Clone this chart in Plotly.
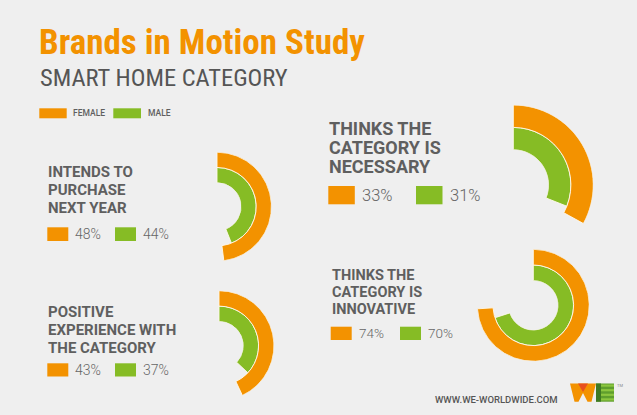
import plotly.graph_objects as go

# ---------------- data ----------------
chart_labels = [
    ["INTENDS TO", "PURCHASE", "NEXT YEAR"],
    ["THINKS THE", "CATEGORY IS", "NECESSARY"],
    ["POSITIVE", "EXPERIENCE WITH", "THE CATEGORY"],
    ["THINKS THE", "CATEGORY IS", "INNOVATIVE"],
]
female = [48, 33, 43, 74]
male = [44, 31, 37, 70]
series_names = ["FEMALE", "MALE"]

# ---------------- styles / layout ----------------
W, H = 637, 415
BG = "#efefef"
ORANGE = "#f39200"
GREEN = "#86bc25"
GRAY = "#5f5f5f"
COND = "Liberation Sans Narrow, Roboto Condensed, Arial Narrow, sans-serif"

# ring geometry per chart: center x, center y, outer radius (px)
rings = [(217, 206.7, 54.5), (513.3, 185, 80), (219, 345.7, 55), (533.3, 305.3, 56)]
# label block: x, first cap top, line pitch, label size, legend square (y0,y1,w), x of green square, pct size
blocks = [
    dict(x=48.3, y=166.7, pitch=18, size=15, sq=(227.3, 241), sqw=21, gx=115, pct=14),
    dict(x=329.3, y=121.7, pitch=19.3, size=18, sq=(186, 204.3), sqw=26.5, gx=416, pct=16.5),
    dict(x=48.3, y=306.7, pitch=18, size=15, sq=(363.3, 376.5), sqw=21, gx=115, pct=14),
    dict(x=331.7, y=270, pitch=17.2, size=14.5, sq=(326.7, 340), sqw=21, gx=400, pct=13.5),
]


def px(x):
    return x / W


def py(y):
    return 1 - y / H


fig = go.Figure()
layout_polars = {}
for i in range(4):
    pid = "polar" if i == 0 else f"polar{i + 1}"
    cx, cy, R = rings[i]
    for val, base, col, name in ((male[i], 0, GREEN, series_names[1]), (female[i], 1, ORANGE, series_names[0])):
        fig.add_trace(go.Barpolar(
            r=[1], base=[base], theta=[val * 3.6 / 2], width=[val * 3.6],
            marker=dict(color=col, line=dict(color="rgba(255,250,235,0.9)", width=1)),
            subplot=pid, name=name, showlegend=False, hoverinfo="skip",
        ))
    layout_polars[pid] = dict(
        domain=dict(x=[px(cx - R), px(cx + R)], y=[py(cy + R), py(cy - R)]),
        hole=0.44, bgcolor="rgba(0,0,0,0)", barmode="overlay",
        angularaxis=dict(visible=False, rotation=90, direction="clockwise"),
        radialaxis=dict(visible=False, range=[0, 2]),
    )

ann = []
shapes = []


def text(x, ycap, s, size, color=GRAY, family="Roboto", weight=400, capf=0.72):
    # y given as top of capitals in px
    ann.append(dict(x=px(x), y=py(ycap + size * capf / 2), xref="paper", yref="paper",
                    xanchor="left", yanchor="middle", text=s, showarrow=False,
                    font=dict(size=size, color=color, family=family, weight=weight),
                    borderpad=0))


def rect(x0, y0, x1, y1, color):
    shapes.append(dict(type="rect", xref="paper", yref="paper", x0=px(x0), x1=px(x1),
                       y0=py(y1), y1=py(y0), fillcolor=color, line=dict(width=0), layer="above"))


# title
text(38, 29.5, "Brands in Motion Study", 35, ORANGE, COND, 700)
text(39, 68.5, "SMART HOME CATEGORY", 24.5, "#555555", COND, 400)

# top legend
rect(39.3, 108.3, 66.7, 118.3, ORANGE)
text(72, 110.3, series_names[0], 8.5, GRAY, "Roboto", 500)
rect(113.3, 108.3, 141, 118.3, GREEN)
text(146.5, 110.3, series_names[1], 8.5, GRAY, "Roboto", 500)

for i in range(4):
    b = blocks[i]
    for j, line in enumerate(chart_labels[i]):
        text(b["x"] - 1, b["y"] + j * b["pitch"], line, b["size"], GRAY, "Roboto", 700)
    y0, y1 = b["sq"]
    x0 = b["x"] - 1
    rect(x0, y0, x0 + b["sqw"], y1, ORANGE)
    rect(b["gx"], y0, b["gx"] + b["sqw"], y1, GREEN)
    cap = b["pct"] * 0.71
    yc = (y0 + y1) / 2 - cap / 2
    text(x0 + b["sqw"] + 6, yc, f"{female[i]}%", b["pct"], "#666666", "Roboto", 300)
    text(b["gx"] + b["sqw"] + 6, yc, f"{male[i]}%", b["pct"], "#666666", "Roboto", 300)

# footer
text(433.5, 396.5, "WWW.WE-WORLDWIDE.COM", 9.5, "#555555", "Roboto", 500)

# logo
def poly(pts, color):
    path = "M " + " L ".join(f"{px(x)},{py(y)}" for x, y in pts) + " Z"
    shapes.append(dict(type="path", xref="paper", yref="paper", path=path,
                       fillcolor=color, line=dict(width=0), layer="above"))


poly([(570, 383.5), (596, 383.5), (591.5, 401.7), (587.5, 401.7), (583, 393), (578.5, 401.7), (574.5, 401.7)], ORANGE)
poly([(578, 383.5), (588, 383.5), (583, 392)], "#e8501e")
rect(596, 383.5, 614, 401.7, "#5f9e2d")
rect(596, 383.5, 601, 401.7, "#3f7a23")
for k in range(4):
    yy = 384.5 + k * 4.6
    rect(601, yy, 614, yy + 2.2, "#8cc63f")
ann.append(dict(x=px(615), y=py(385), xref="paper", yref="paper", xanchor="left", yanchor="middle",
                text="TM", showarrow=False, font=dict(size=4, color="#888888", family="Roboto")))

fig.update_layout(
    width=W, height=H, margin=dict(l=0, r=0, t=0, b=0),
    paper_bgcolor=BG, plot_bgcolor=BG,
    annotations=ann, shapes=shapes, showlegend=False,
    **layout_polars,
)
fig.write_html("out.html")
